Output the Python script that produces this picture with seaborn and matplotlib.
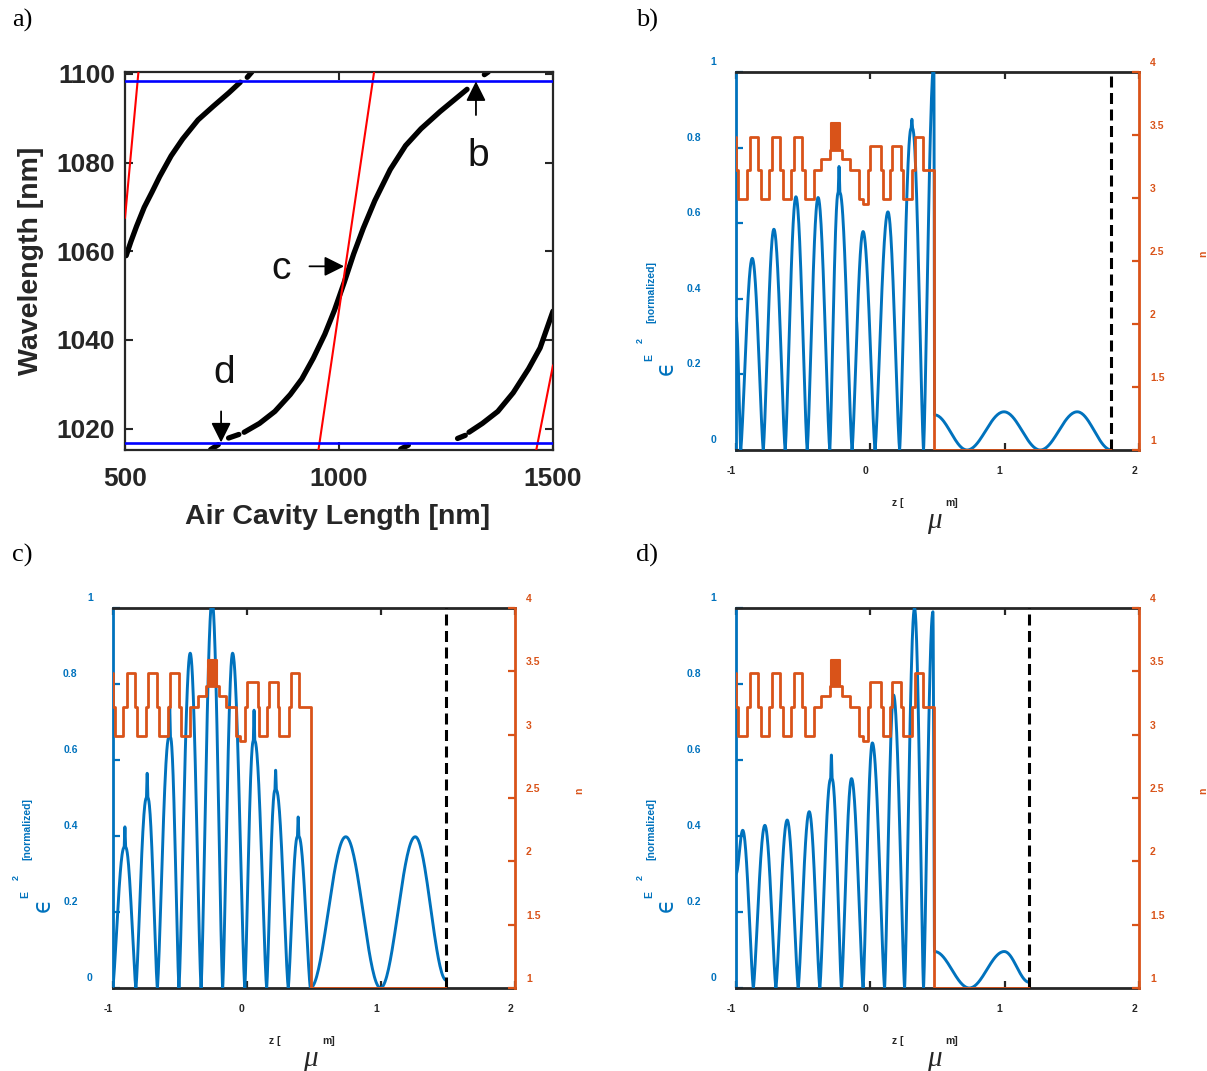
import numpy as np
import matplotlib
matplotlib.use("Agg")
import matplotlib.pyplot as plt
import seaborn as sns
from matplotlib.transforms import ScaledTranslation, blended_transform_factory

sns.set_theme(style="white")
plt.rcParams['font.family'] = ['Liberation Sans', 'DejaVu Sans']

# ---------------- Panel a data ----------------
a_xticks = [500, 1000, 1500]
a_yticks = [1020, 1040, 1060, 1080, 1100]
stopband_edges = [1016.7, 1098.3]

mode1_x = [502.7, 513.5, 526.9, 544.9, 562.9, 580.8, 607.8, 634.7, 670.6, 706.5, 742.5, 769.4]
mode1_y = [1059.0, 1062.1, 1065.6, 1069.9, 1073.3, 1076.8, 1081.5, 1085.3, 1089.6, 1092.7, 1095.7, 1098.1]
mode1_top_x = [785.6, 796.3]
mode1_top_y = [1099.2, 1100.4]

mode2_fragA_x = [700, 718]
mode2_fragA_y = [1015.3, 1016.4]
mode2_fragB_x = [742, 766]
mode2_fragB_y = [1017.9, 1018.7]
mode2_x = [778.4, 814.3, 850.2, 886.1, 913.1, 940.0, 966.9, 989.4, 1011.9, 1034.3,
           1056.8, 1083.7, 1119.6, 1155.5, 1191.5, 1236.4, 1299.2]
mode2_y = [1019.2, 1021.2, 1023.9, 1027.7, 1031.2, 1035.9, 1041.3, 1046.7, 1052.9, 1059.4,
           1065.2, 1071.4, 1078.4, 1083.8, 1087.6, 1091.5, 1096.5]
mode2_top_x = [1339.6, 1348.6]
mode2_top_y = [1099.8, 1100.4]

mode3_fragA_x = [1144, 1162]
mode3_fragA_y = [1015.4, 1016.3]
mode3_fragB_x = [1277, 1295]
mode3_fragB_y = [1017.8, 1018.5]
mode3_x = [1303.7, 1335.1, 1371.1, 1407.0, 1442.9, 1469.8, 1500.0]
mode3_y = [1019.2, 1021.2, 1023.9, 1028.1, 1033.5, 1038.2, 1046.5]

red1_x = [500.0, 531.4]
red1_y = [1067.5, 1100.4]
red2_x = [952.0, 1082.0]
red2_y = [1015.2, 1100.4]
red3_x = [1460.9, 1500.0]
red3_y = [1015.2, 1034.3]

# ---------------- Panels b-d data ----------------
z_ticks = [-1, 0, 1, 2]
e_ticks = [0, 0.2, 0.4, 0.6, 0.8, 1]
e_tick_labels = ['0', '0.2', '0.4', '0.6', '0.8', '1']
n_ticks = [1, 1.5, 2, 2.5, 3, 3.5, 4]
n_tick_labels = ['1', '1.5', '2', '2.5', '3', '3.5', '4']

# refractive index step profile (edges in um, level of each layer)
n_edges = [-1.0, -0.997, -0.983, -0.921, -0.896, -0.834, -0.817, -0.752, -0.735, -0.673, -0.653,
           -0.587, -0.569, -0.507, -0.488, -0.421, -0.364, -0.302, -0.290, -0.223, -0.210,
           -0.153, -0.084, -0.054, -0.017, 0.0, 0.082, 0.094, 0.149, 0.163, 0.230, 0.243,
           0.312, 0.329, 0.391, 0.476]
n_levels = [3.487, 3.22, 2.99, 3.22, 3.487, 3.22, 2.99, 3.22, 3.487, 3.22, 2.99,
            3.22, 3.487, 3.22, 2.99, 3.22, 3.307, 3.381, 3.381, 3.381, 3.307,
            3.22, 2.99, 2.952, 3.22, 3.415, 3.22, 2.99, 3.22, 3.415, 3.22, 2.99,
            3.22, 3.487, 3.22]
n_air = 1.0
interface_z = 0.476
thin_block_z = [-0.290, -0.223]
thin_block_n = [3.381, 3.593]

# field intensity knots (zeros, shoulders, peaks), per panel
b_z = [-1.0, -0.965, -0.879, -0.797, -0.718, -0.634, -0.554, -0.470, -0.389, -0.302,
       -0.240, -0.233, -0.226, -0.136, -0.054, 0.035, 0.131, 0.218, 0.303, 0.309, 0.315,
       0.396, 0.473, 0.478, 0.72, 0.995, 1.265, 1.54, 1.795]
b_e = [0.35, 0.0, 0.507, 0.0, 0.584, 0.0, 0.670, 0.0, 0.668, 0.0,
       0.68, 0.75, 0.68, 0.0, 0.578, 0.0, 0.630, 0.0, 0.85, 0.875, 0.85,
       0.0, 1.02, 0.093, 0.0, 0.101, 0.0, 0.101, 0.0]
b_end = 1.795

c_z = [-1.0, -0.915, -0.909, -0.903, -0.827, -0.749, -0.743, -0.737, -0.667, -0.581, -0.575,
       -0.569, -0.506, -0.422, -0.341, -0.259, -0.180, -0.106, -0.015, 0.048, 0.054, 0.060,
       0.148, 0.209, 0.215, 0.221, 0.309, 0.377, 0.383, 0.389, 0.474, 0.738, 0.997, 1.256,
       1.488]
c_e = [0.0, 0.37, 0.424, 0.37, 0.0, 0.50, 0.565, 0.50, 0.0, 0.66, 0.74,
       0.66, 0.0, 0.881, 0.0, 1.02, 0.0, 0.881, 0.0, 0.65, 0.731, 0.65,
       0.0, 0.52, 0.573, 0.52, 0.0, 0.398, 0.45, 0.398, 0.0, 0.398, 0.0, 0.398,
       0.02]
c_end = 1.488

d_z = [-1.0, -0.950, -0.871, -0.785, -0.703, -0.619, -0.537, -0.455, -0.376, -0.296, -0.290,
       -0.284, -0.215, -0.140, -0.054, 0.015, 0.106, 0.173, 0.255, 0.329, 0.396, 0.466,
       0.478, 0.737, 0.997, 1.183]
d_e = [0.30, 0.415, 0.0, 0.428, 0.0, 0.442, 0.0, 0.464, 0.0, 0.55, 0.613,
       0.55, 0.0, 0.551, 0.0, 0.645, 0.0, 0.771, 0.0, 1.0, 0.0, 0.99,
       0.096, 0.0, 0.096, 0.015]
d_end = 1.183

BLUE = '#0072BD'
ORANGE = '#D95319'
DARK = '#262626'

W, H = 1207, 1071
fig = plt.figure(figsize=(W / 100, H / 100), dpi=100)
fig.patch.set_facecolor('white')


def px_axes(l, t, r, b):
    return fig.add_axes([l / W, 1 - b / H, (r - l) / W, (b - t) / H])


def line(ax, x, y, **kw):
    sns.lineplot(x=x, y=y, ax=ax, sort=False, estimator=None, legend=False, **kw)


# ================= Panel a =================
ax = px_axes(125, 72, 553, 450)
ax.set_xlim(500, 1500)
ax.set_ylim(1015.2, 1100.4)
for yb in stopband_edges:
    line(ax, [500, 1500], [yb, yb], color='#0000FF', linewidth=1.9, zorder=4)
for xs, ys in [(mode1_x, mode1_y), (mode1_top_x, mode1_top_y), (mode2_fragA_x, mode2_fragA_y),
               (mode2_fragB_x, mode2_fragB_y), (mode2_x, mode2_y), (mode2_top_x, mode2_top_y),
               (mode3_fragA_x, mode3_fragA_y), (mode3_fragB_x, mode3_fragB_y), (mode3_x, mode3_y)]:
    line(ax, xs, ys, color='black', linewidth=3.8, zorder=2)
for xs, ys in [(red1_x, red1_y), (red2_x, red2_y), (red3_x, red3_y)]:
    line(ax, xs, ys, color='#FF0000', linewidth=1.5, zorder=3)

ax.set_xticks(a_xticks)
ax.set_yticks(a_yticks)
ax.set_xticklabels([str(v) for v in a_xticks], fontsize=19, fontweight='bold', color=DARK)
ax.set_yticklabels([str(v) for v in a_yticks], fontsize=19, fontweight='bold', color=DARK)
ax.tick_params(direction='in', length=6, width=1.5, color=DARK, top=True, right=True,
               bottom=True, left=True)
ax.tick_params(axis='x', pad=12)
ax.tick_params(axis='y', pad=7)
for s in ax.spines.values():
    s.set_color(DARK)
    s.set_linewidth(1.6)
ax.set_xlabel('Air Cavity Length [nm]', fontsize=20.5, fontweight='bold', color=DARK)
ax.set_ylabel('Wavelength [nm]', fontsize=20.5, fontweight='bold', color=DARK)
ax.xaxis.set_label_coords((338 - 125) / 428, -(517 - 450) / 378)
ax.yaxis.set_label_coords(-(125 - 31) / 428, 0.5)
ax.xaxis.label.set_va('center')
ax.yaxis.label.set_va('center')

ax.text(1325, 1081.5, 'b', fontsize=28, ha='center', va='center', color='#111111')
ax.text(864, 1056.0, 'c', fontsize=28, ha='center', va='center', color='#111111')
ax.text(731, 1032.6, 'd', fontsize=28, ha='center', va='center', color='#111111')
arrow_kw = dict(arrowstyle='-|>,head_length=0.5,head_width=0.25', color='black', lw=1.3,
                mutation_scale=24, shrinkA=0, shrinkB=0)
ax.annotate('', xy=(1320, 1098.3), xytext=(1320, 1090.7), arrowprops=arrow_kw, zorder=6)
ax.annotate('', xy=(1011.9, 1056.6), xytext=(931, 1056.6), arrowprops=arrow_kw, zorder=6)
ax.annotate('', xy=(724.5, 1016.9), xytext=(724.5, 1023.9), arrowprops=arrow_kw, zorder=6)


# ================= Panels b-d =================
def field_path(zk, ek, n=40):
    zs, es = [zk[0]], [ek[0]]
    t = np.linspace(0, 1, n)[1:]
    for i in range(len(zk) - 1):
        z0, z1, e0, e1 = zk[i], zk[i + 1], ek[i], ek[i + 1]
        p = 2.0 if 0.5 * (z0 + z1) > interface_z else 1.35
        if e0 == 0 and e1 > 0:
            seg = e1 * np.sin(np.pi * t / 2) ** p
        elif e1 == 0 and e0 > 0:
            seg = e0 * np.cos(np.pi * t / 2) ** p
        else:
            seg = e0 + (e1 - e0) * (1 - np.cos(np.pi * t)) / 2
        zs.extend(z0 + (z1 - z0) * t)
        es.extend(seg)
    return np.array(zs), np.array(es)


def step_path(edges, levels, z_end):
    xs, ys = [], []
    for i, lv in enumerate(levels):
        xs += [edges[i], edges[i + 1]]
        ys += [lv, lv]
    xs += [edges[-1], z_end]
    ys += [n_air, n_air]
    return xs, ys


def field_panel(l, t, r, b, zk, ek, z_end):
    axw, axh = r - l, b - t
    ax = px_axes(l, t, r, b)
    ax2 = ax.twinx()
    ax.set_xlim(-1, 2)
    ax.set_ylim(0, 1)
    ax2.set_ylim(1, 4)

    zz, ee = field_path(zk, ek)
    line(ax, zz, ee, color=BLUE, linewidth=2.1, zorder=3)
    ax.plot([z_end, z_end], [0, 1], color='black', lw=2.2, dashes=(3.6, 1.8), zorder=4)

    xs, ys = step_path(n_edges, n_levels, z_end)
    line(ax2, xs, ys, color=ORANGE, linewidth=2.0, zorder=3)
    ax2.fill_between(thin_block_z, [thin_block_n[0]] * 2, [thin_block_n[1]] * 2,
                     color=ORANGE, linewidth=1.5, edgecolor=ORANGE, zorder=3)

    for s in ['top', 'bottom']:
        ax.spines[s].set_color(DARK)
        ax.spines[s].set_linewidth(2.0)
        ax2.spines[s].set_visible(False)
    ax.spines['left'].set_color(BLUE)
    ax.spines['left'].set_linewidth(2.0)
    ax.spines['right'].set_visible(False)
    ax2.spines['left'].set_visible(False)
    ax2.spines['right'].set_color(ORANGE)
    ax2.spines['right'].set_linewidth(2.0)
    ax2.spines['right'].set_zorder(5)

    ax.set_xticks(z_ticks)
    ax.set_yticks(e_ticks)
    ax2.set_yticks(n_ticks)
    ax.set_xticklabels([])
    ax.set_yticklabels([])
    ax2.set_yticklabels([])
    ax.tick_params(axis='x', direction='in', length=5, width=1.6, color=DARK, top=True, bottom=True)
    ax.tick_params(axis='y', direction='in', length=5, width=1.6, color=BLUE, left=True, right=False)
    ax2.tick_params(axis='y', direction='in', length=5, width=1.6, color=ORANGE, right=True, left=False)

    trL = blended_transform_factory(ax.transAxes, ax.transData)
    for v, lab in zip(e_ticks, e_tick_labels):
        dx = -20 if lab in ('0', '1') else -35
        ax.text(0, v, lab, transform=trL + ScaledTranslation(dx / 100, 10 / 100, fig.dpi_scale_trans),
                ha='right', va='center', fontsize=7.5, fontweight='bold', color=BLUE)
    trR = blended_transform_factory(ax2.transAxes, ax2.transData)
    for v, lab in zip(n_ticks, n_tick_labels):
        ax2.text(1, v, lab, transform=trR + ScaledTranslation(11 / 100, 9 / 100, fig.dpi_scale_trans),
                 ha='left', va='center', fontsize=7.5, fontweight='bold', color=ORANGE)
    trX = blended_transform_factory(ax.transData, ax.transAxes)
    for v in z_ticks:
        ax.text(v, 0, str(v), transform=trX + ScaledTranslation(-5 / 100, -21 / 100, fig.dpi_scale_trans),
                ha='center', va='center', fontsize=7.5, fontweight='bold', color=DARK)

    ax.text(162 / axw, -53 / axh, 'z [', transform=ax.transAxes, ha='center', va='center',
            fontsize=7.5, fontweight='bold', color=DARK)
    ax.text(216 / axw, -53 / axh, 'm]', transform=ax.transAxes, ha='center', va='center',
            fontsize=7.5, fontweight='bold', color=DARK)
    ax.text(198 / axw, -71 / axh, 'μ', transform=ax.transAxes, ha='center', va='center',
            fontsize=21, style='italic', family=['Liberation Serif', 'DejaVu Serif'], color=DARK)
    ax.text(-85 / axw, 0.418, '[normalized]', transform=ax.transAxes, rotation=90,
            ha='center', va='center', fontsize=7.5, fontweight='bold', color=BLUE)
    ax.text(-96 / axw, 0.29, '2', transform=ax.transAxes, rotation=90,
            ha='center', va='center', fontsize=6.5, fontweight='bold', color=BLUE)
    ax.text(-87 / axw, 0.245, 'E', transform=ax.transAxes, rotation=90,
            ha='center', va='center', fontsize=7.5, fontweight='bold', color=BLUE)
    ax.text(-70 / axw, 0.218, 'ϵ', transform=ax.transAxes, rotation=90,
            ha='center', va='center', fontsize=17, color=BLUE, family=['DejaVu Sans'])
    ax2.text(1 + 64 / axw, 0.52, 'n', transform=ax2.transAxes, rotation=90,
             ha='center', va='center', fontsize=7.5, fontweight='bold', color=ORANGE)
    return ax, ax2


field_panel(736, 72, 1139, 450, b_z, b_e, b_end)
field_panel(112.7, 608, 515, 988, c_z, c_e, c_end)
field_panel(736, 608, 1139, 988, d_z, d_e, d_end)

serif = ['Liberation Serif', 'DejaVu Serif']
for (x, y, s) in [(22, 20, 'a)'), (647, 20, 'b)'), (22, 555, 'c)'), (647, 555, 'd)')]:
    fig.text(x / W, 1 - y / H, s, ha='center', va='center', fontsize=19, family=serif, color='black')

fig.savefig('out.png', dpi=100, facecolor='white')
